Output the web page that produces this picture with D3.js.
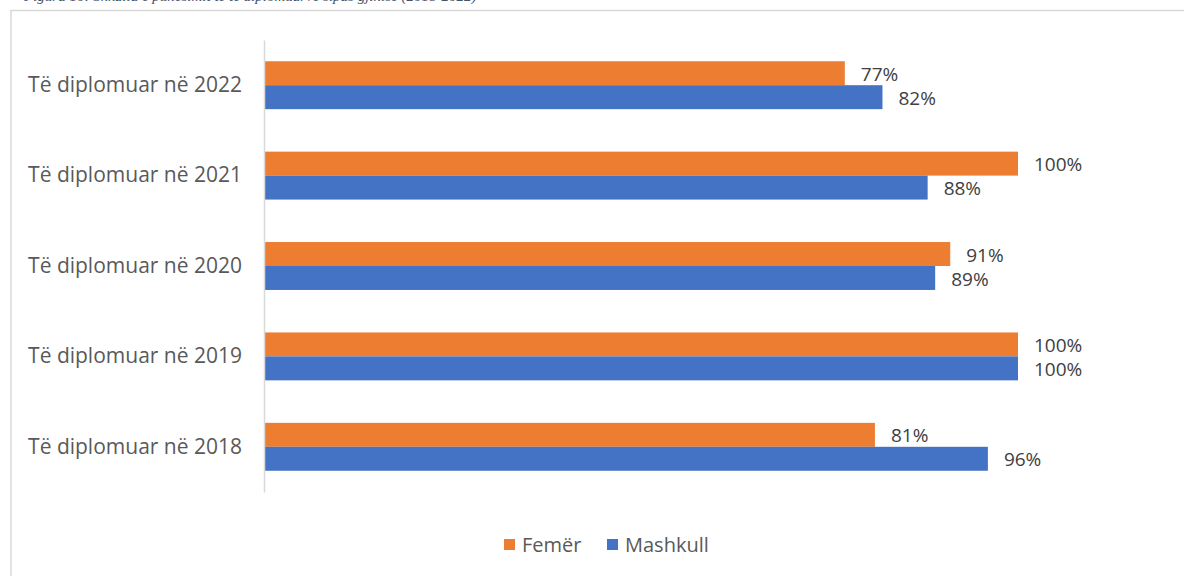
<!DOCTYPE html>
<html>
<head>
<meta charset="utf-8">
<script src="https://cdn.jsdelivr.net/npm/d3@7"></script>
<style>
  html, body { margin: 0; padding: 0; background: #fff; }
  svg { display: block; }
</style>
</head>
<body>
<svg id="chart" width="1184" height="576"></svg>
<script>
// Graduates by year and gender (share, %)
const categories = ["Të diplomuar në 2022", "Të diplomuar në 2021", "Të diplomuar në 2020", "Të diplomuar në 2019", "Të diplomuar në 2018"];
const seriesNames = ["Femër", "Mashkull"];
const femer = [77, 100, 91, 100, 81];
const mashkull = [82, 88, 89, 100, 96];
const colors = ["#ED7D31", "#4472C4"];
const caption = "Figura 10: Shkalla e punësimit të të diplomuarve sipas gjinisë (2018-2022)";

const svg = d3.select("#chart");
const W = 1184, H = 576;
const font = "'Open Sans', sans-serif";

// caption above the frame (runs off the top edge)
svg.append("text")
  .attr("x", 24).attr("y", 1)
  .attr("font-family", "'Liberation Serif', serif")
  .attr("font-style", "italic")
  .attr("font-size", 15)
  .attr("fill", "#44546A")
  .text(caption);

// chart frame
svg.append("rect")
  .attr("x", 11).attr("y", 10.5)
  .attr("width", W + 10).attr("height", H + 10)
  .attr("fill", "#fff")
  .attr("stroke", "#D9D9D9")
  .attr("stroke-width", 1.5);

const plot = { left: 265, right: 1018, top: 40, bottom: 492 };

const x = d3.scaleLinear().domain([0, 100]).range([plot.left, plot.right]);
const y = d3.scaleBand().domain(categories).range([plot.top, plot.bottom]).paddingInner(0.47).paddingOuter(0.235);
const ySub = d3.scaleBand().domain(seriesNames).range([0, y.bandwidth()]);

const rows = categories.map((c, i) => ({ cat: c, vals: [femer[i], mashkull[i]] }));

const groups = svg.append("g").selectAll("g")
  .data(rows).join("g")
  .attr("transform", d => `translate(0,${y(d.cat)})`);

groups.selectAll("rect")
  .data(d => d.vals.map((v, j) => ({ v, s: seriesNames[j], j })))
  .join("rect")
  .attr("x", x(0))
  .attr("y", d => ySub(d.s))
  .attr("width", d => x(d.v) - x(0))
  .attr("height", ySub.bandwidth())
  .attr("fill", d => colors[d.j]);

groups.selectAll("text.val")
  .data(d => d.vals.map((v, j) => ({ v, s: seriesNames[j], j })))
  .join("text")
  .attr("class", "val")
  .attr("x", d => x(d.v) + 16)
  .attr("y", d => ySub(d.s) + ySub.bandwidth() / 2 + 1)
  .attr("dy", "0.35em")
  .attr("font-family", font)
  .attr("font-size", 19)
  .attr("fill", "#404040")
  .text(d => d.v + "%");

// category axis
const yAxis = d3.axisLeft(y).tickSize(0).tickPadding(22);
const ag = svg.append("g").attr("transform", `translate(${plot.left - 1},0)`).call(yAxis);
ag.select(".domain").attr("stroke", "#D9D9D9").attr("stroke-width", 1.5);
ag.selectAll("text")
  .attr("font-family", font)
  .attr("font-size", 21)
  .attr("fill", "#595959");

// legend
const legend = svg.append("g").attr("transform", "translate(504,539)");
const lx = [0, 103];
seriesNames.forEach((s, i) => {
  const g = legend.append("g").attr("transform", `translate(${lx[i]},0)`);
  g.append("rect").attr("width", 11).attr("height", 11).attr("fill", colors[i]);
  g.append("text")
    .attr("x", 18).attr("y", 6).attr("dy", "0.36em")
    .attr("font-family", font).attr("font-size", 20)
    .attr("fill", "#595959")
    .text(s);
});
</script>
</body>
</html>
